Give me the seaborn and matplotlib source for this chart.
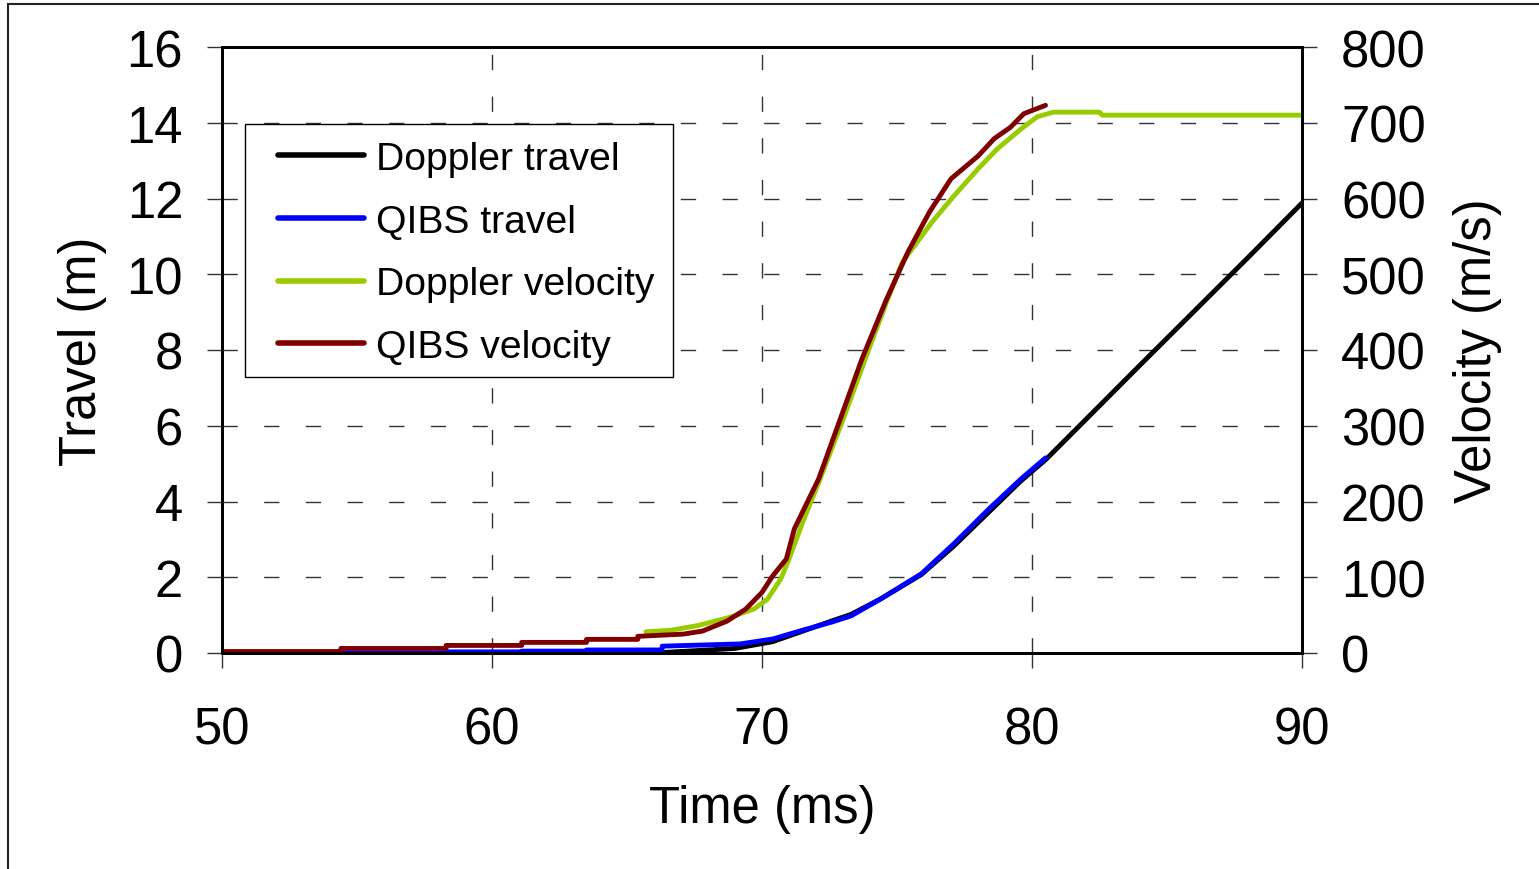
import matplotlib
matplotlib.use('Agg')
import matplotlib.pyplot as plt
import seaborn as sns
from matplotlib.patches import Rectangle

# ---- data ----
t_doppler_travel = [66.0, 69.0, 70.4, 71.4, 72.6, 73.3, 74.4, 75.9, 77.1, 78.4, 79.6, 80.5,
                    82.0, 84.0, 86.0, 88.0, 90.0]
doppler_travel = [0.0, 0.12, 0.3, 0.55, 0.85, 1.02, 1.43, 2.07, 2.82, 3.72, 4.55, 5.1,
                  6.17, 7.6, 9.02, 10.44, 11.88]

t_qibs_travel = [50.0, 58.3, 58.3, 61.1, 61.1, 63.5, 63.5, 66.3, 66.3, 69.2, 70.4, 71.4,
                 72.6, 73.3, 74.4, 75.9, 77.1, 78.4, 79.6, 80.5]
qibs_travel = [0.0, 0.0, 0.03, 0.03, 0.05, 0.05, 0.08, 0.08, 0.18, 0.24, 0.37, 0.58,
               0.82, 0.98, 1.43, 2.09, 2.88, 3.8, 4.6, 5.15]

t_doppler_vel = [65.7, 66.6, 67.6, 68.8, 69.7, 70.2, 70.7, 71.0, 71.5, 72.1, 73.0, 74.0,
                 74.6, 75.2, 76.3, 77.1, 78.0, 78.7, 79.6, 80.2, 80.8, 82.5, 82.6, 90.0]
doppler_vel = [28, 30, 36, 47, 58, 71, 98, 124, 172, 225, 308, 405,
               462, 516, 569, 603, 639, 665, 692, 708, 714, 714, 710, 710]

t_qibs_vel = [50.0, 54.4, 54.4, 58.3, 58.3, 61.1, 61.1, 63.5, 63.5, 65.4, 65.4, 67.1,
              67.8, 68.7, 69.4, 70.0, 70.4, 70.9, 71.2, 72.1, 72.9, 73.7, 74.6, 75.4,
              76.2, 77.0, 78.0, 78.6, 79.2, 79.7, 80.5]
qibs_vel = [2, 2, 6, 6, 10, 10, 14, 14, 18, 18, 22, 25,
            29, 42, 58, 80, 102, 124, 164, 230, 309, 388, 466, 529,
            582, 626, 656, 679, 694, 712, 723]

x_ticks = [50, 60, 70, 80, 90]
travel_ticks = [0, 2, 4, 6, 8, 10, 12, 14, 16]
vel_ticks = [0, 100, 200, 300, 400, 500, 600, 700, 800]

sns.set_theme(style="white")
plt.rcParams['font.family'] = ['Liberation Sans', 'DejaVu Sans']
plt.rcParams['text.color'] = 'black'
plt.rcParams['axes.labelcolor'] = 'black'

W, H = 1539, 870
fig = plt.figure(figsize=(W / 100, H / 100), dpi=100)
ax = fig.add_axes([222 / W, 1 - 654 / H, 1080 / W, 606 / H])
ax2 = ax.twinx()

lw = 3.5
sns.lineplot(x=t_doppler_travel, y=doppler_travel, ax=ax, color='#000000', lw=lw,
             estimator=None, sort=False, label='Doppler travel', legend=False)
sns.lineplot(x=t_qibs_travel, y=qibs_travel, ax=ax, color='#0000FF', lw=lw,
             estimator=None, sort=False, label='QIBS travel', legend=False)
sns.lineplot(x=t_doppler_vel, y=doppler_vel, ax=ax2, color='#99CC00', lw=lw,
             estimator=None, sort=False, label='Doppler velocity', legend=False)
sns.lineplot(x=t_qibs_vel, y=qibs_vel, ax=ax2, color='#800000', lw=lw,
             estimator=None, sort=False, label='QIBS velocity', legend=False)

ax.set_xlim(50, 90)
ax.set_ylim(0, 16)
ax2.set_ylim(0, 800)
ax.set_xticks(x_ticks)
ax.set_yticks(travel_ticks)
ax2.set_yticks(vel_ticks)

ax.grid(True, axis='both', color='#333333', lw=1.0, linestyle=(0, (11, 19)))
ax2.grid(False)

for a in (ax, ax2):
    for s in a.spines.values():
        s.set_color('black')
        s.set_linewidth(2.0)
    a.tick_params(length=11, width=1.0, color='#333333', labelsize=36.5, pad=17,
                  labelcolor='black')
ax.tick_params(axis='both', direction='out', left=True, bottom=True)
ax.tick_params(axis='x', pad=27)
ax2.tick_params(axis='y', direction='out', right=True)

ax.set_xlabel('Time (ms)', fontsize=36.5, labelpad=21)
ax.set_ylabel('Travel (m)', fontsize=36.5, labelpad=14)
ax2.set_ylabel('Velocity (m/s)', fontsize=36.5, labelpad=20)

# legend: frame drawn separately so the padding can match the reference box
h1, l1 = ax.get_legend_handles_labels()
h2, l2 = ax2.get_legend_handles_labels()
leg = ax2.legend(h1 + h2, l1 + l2, loc='upper left',
                 bbox_to_anchor=((278 - 222) / 1080, (654 - 142) / 606),
                 borderaxespad=0, borderpad=0, fontsize=28.2, frameon=False,
                 handlelength=2.2, handletextpad=0.3, labelspacing=0.68)
for h in leg.get_lines():
    h.set_linewidth(4)
ax2.add_patch(Rectangle(((245 - 222) / 1080, (654 - 378) / 606), (673 - 245) / 1080,
                        (378 - 125) / 606, transform=ax2.transAxes, fill=True,
                        facecolor='white', edgecolor='black', lw=1.0, zorder=4))
leg.set_zorder(5)

# outer chart frame
fig.patches.append(Rectangle((8 / W, -0.05), 1.2, (1 - 5 / H) + 0.05,
                             transform=fig.transFigure, fill=False,
                             edgecolor='#222222', lw=1.5))

fig.savefig('out.png', dpi=100)
